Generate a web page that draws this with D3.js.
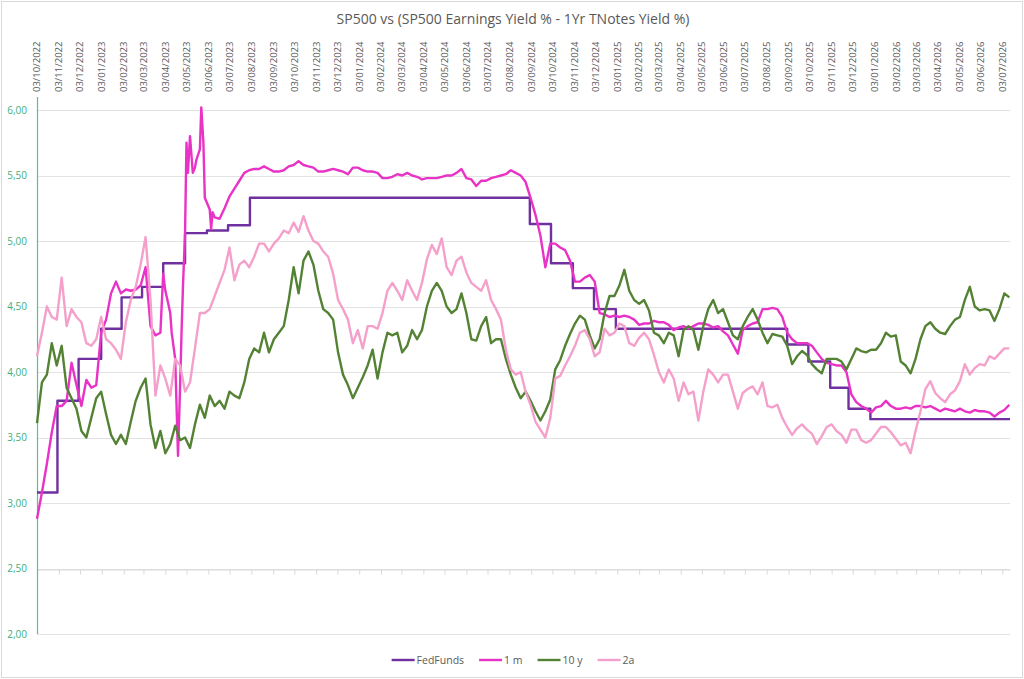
<!DOCTYPE html>
<html>
<head>
<meta charset="utf-8">
<script src="https://cdn.jsdelivr.net/npm/d3@7"></script>
<style>
  body { margin: 0; background: #fff; }
  svg { display: block; font-family: "Open Sans", sans-serif; }
</style>
</head>
<body>
<div id="chart"></div>
<script>
// weekly sample dates (Mondays)
const weeks = [
  "2022-10-03","2022-10-10","2022-10-17","2022-10-24","2022-10-31","2022-11-07","2022-11-14","2022-11-21","2022-11-28","2022-12-05",
  "2022-12-12","2022-12-19","2022-12-26","2023-01-02","2023-01-09","2023-01-16","2023-01-23","2023-01-30","2023-02-06","2023-02-13",
  "2023-02-20","2023-02-27","2023-03-06","2023-03-13","2023-03-20","2023-03-27","2023-04-03","2023-04-10","2023-04-17","2023-04-24",
  "2023-05-01","2023-05-08","2023-05-15","2023-05-22","2023-05-29","2023-06-05","2023-06-12","2023-06-19","2023-06-26","2023-07-03",
  "2023-07-10","2023-07-17","2023-07-24","2023-07-31","2023-08-07","2023-08-14","2023-08-21","2023-08-28","2023-09-04","2023-09-11",
  "2023-09-18","2023-09-25","2023-10-02","2023-10-09","2023-10-16","2023-10-23","2023-10-30","2023-11-06","2023-11-13","2023-11-20",
  "2023-11-27","2023-12-04","2023-12-11","2023-12-18","2023-12-25","2024-01-01","2024-01-08","2024-01-15","2024-01-22","2024-01-29",
  "2024-02-05","2024-02-12","2024-02-19","2024-02-26","2024-03-04","2024-03-11","2024-03-18","2024-03-25","2024-04-01","2024-04-08",
  "2024-04-15","2024-04-22","2024-04-29","2024-05-06","2024-05-13","2024-05-20","2024-05-27","2024-06-03","2024-06-10","2024-06-17",
  "2024-06-24","2024-07-01","2024-07-08","2024-07-15","2024-07-22","2024-07-29","2024-08-05","2024-08-12","2024-08-19","2024-08-26",
  "2024-09-02","2024-09-09","2024-09-16","2024-09-23","2024-09-30","2024-10-07","2024-10-14","2024-10-21","2024-10-28","2024-11-04",
  "2024-11-11","2024-11-18","2024-11-25","2024-12-02","2024-12-09","2024-12-16","2024-12-23","2024-12-30","2025-01-06","2025-01-13",
  "2025-01-20","2025-01-27","2025-02-03","2025-02-10","2025-02-17","2025-02-24","2025-03-03","2025-03-10","2025-03-17","2025-03-24",
  "2025-03-31","2025-04-07","2025-04-14","2025-04-21","2025-04-28","2025-05-05","2025-05-12","2025-05-19","2025-05-26","2025-06-02",
  "2025-06-09","2025-06-16","2025-06-23","2025-06-30","2025-07-07","2025-07-14","2025-07-21","2025-07-28","2025-08-04","2025-08-11",
  "2025-08-18","2025-08-25","2025-09-01","2025-09-08","2025-09-15","2025-09-22","2025-09-29","2025-10-06","2025-10-13","2025-10-20",
  "2025-10-27","2025-11-03","2025-11-10","2025-11-17","2025-11-24","2025-12-01","2025-12-08","2025-12-15","2025-12-22","2025-12-29",
  "2026-01-05","2026-01-12","2026-01-19","2026-01-26","2026-02-02","2026-02-09","2026-02-16","2026-02-23","2026-03-02","2026-03-09",
  "2026-03-16","2026-03-23","2026-03-30","2026-04-06","2026-04-13","2026-04-20","2026-04-27","2026-05-04","2026-05-11","2026-05-18",
  "2026-05-25","2026-06-01","2026-06-08","2026-06-15","2026-06-22","2026-06-29","2026-07-06","2026-07-13"
]

// FedFunds: level changes (step series)
const fedFunds = [
  ["2022-10-03", 3.08], ["2022-11-01", 3.78], ["2022-12-01", 4.10], ["2023-01-02", 4.33],
  ["2023-01-31", 4.57], ["2023-03-01", 4.65], ["2023-03-31", 4.83], ["2023-05-01", 5.06],
  ["2023-06-01", 5.08], ["2023-07-01", 5.12], ["2023-08-01", 5.33], ["2024-09-01", 5.13],
  ["2024-10-01", 4.83], ["2024-11-01", 4.64], ["2024-12-01", 4.48], ["2025-01-01", 4.33],
  ["2025-09-01", 4.21], ["2025-10-01", 4.08], ["2025-11-01", 3.88], ["2025-11-27", 3.72],
  ["2025-12-28", 3.64], ["2026-07-14", 3.64]
]

// 1 m, weekly
const oneMonth = [
  2.88, 3.08, 3.30, 3.54, 3.74, 3.74, 3.78, 4.07, 3.90, 3.74,
  3.94, 3.88, 3.90, 4.30, 4.40, 4.60, 4.69, 4.60, 4.63, 4.62,
  4.63, 4.66, 4.80, 4.35, 4.28, 4.30, 4.62, 4.45, 4.10, 3.90,
  5.06, 5.80, 5.56, 5.70, 5.33, 5.24, 5.18, 5.17, 5.25, 5.34,
  5.40, 5.46, 5.52, 5.54, 5.55, 5.55, 5.57, 5.55, 5.53, 5.53,
  5.54, 5.57, 5.58, 5.61, 5.58, 5.57, 5.56, 5.53, 5.53, 5.54,
  5.55, 5.54, 5.53, 5.51, 5.56, 5.56, 5.54, 5.53, 5.53, 5.52,
  5.48, 5.48, 5.49, 5.51, 5.50, 5.52, 5.50, 5.49, 5.47, 5.48,
  5.48, 5.48, 5.49, 5.50, 5.50, 5.52, 5.55, 5.48, 5.47, 5.42,
  5.46, 5.46, 5.48, 5.49, 5.50, 5.51, 5.54, 5.52, 5.50, 5.45,
  5.33, 5.20, 5.04, 4.80, 4.98, 4.98, 4.95, 4.93, 4.85, 4.69,
  4.69, 4.72, 4.74, 4.69, 4.45, 4.44, 4.42, 4.43, 4.42, 4.43,
  4.42, 4.40, 4.36, 4.37, 4.37, 4.39, 4.38, 4.38, 4.36, 4.32,
  4.34, 4.35, 4.33, 4.35, 4.37, 4.37, 4.36, 4.34, 4.35, 4.31,
  4.28, 4.21, 4.14, 4.32, 4.35, 4.37, 4.38, 4.48, 4.48, 4.49,
  4.48, 4.42, 4.30, 4.25, 4.22, 4.22, 4.22, 4.20, 4.15, 4.10,
  4.07, 4.06, 4.05, 4.05, 4.00, 3.83, 3.77, 3.74, 3.72, 3.69,
  3.73, 3.74, 3.78, 3.74, 3.72, 3.72, 3.73, 3.72, 3.74, 3.74,
  3.73, 3.74, 3.72, 3.70, 3.72, 3.71, 3.70, 3.72, 3.70, 3.69,
  3.71, 3.70, 3.70, 3.69, 3.66, 3.69, 3.71, 3.75
]

// 1 m, extra daily readings around the spring 2023 spike
const oneMonthSpikes = [
  ["2023-03-31", 4.75], ["2023-04-06", 4.55], ["2023-04-12", 4.30], ["2023-04-21", 3.36],
  ["2023-04-26", 4.30], ["2023-04-28", 4.65], ["2023-05-03", 5.75], ["2023-05-05", 5.52],
  ["2023-05-12", 5.52], ["2023-05-17", 5.62], ["2023-05-24", 6.02], ["2023-05-27", 5.75],
  ["2023-06-07", 5.09], ["2023-06-09", 5.22]
]

// 10 y, weekly
const tenYear = [
  3.61, 3.92, 3.98, 4.22, 4.05, 4.20, 3.88, 3.80, 3.72, 3.55,
  3.50, 3.65, 3.80, 3.85, 3.68, 3.52, 3.45, 3.52, 3.45, 3.62,
  3.78, 3.88, 3.95, 3.60, 3.42, 3.55, 3.38, 3.45, 3.59, 3.48,
  3.50, 3.42, 3.60, 3.75, 3.65, 3.82, 3.74, 3.78, 3.72, 3.85,
  3.82, 3.80, 3.92, 4.10, 4.18, 4.15, 4.30, 4.15, 4.25, 4.30,
  4.35, 4.55, 4.80, 4.60, 4.85, 4.92, 4.82, 4.62, 4.48, 4.45,
  4.40, 4.15, 3.98, 3.90, 3.80, 3.88, 3.96, 4.05, 4.17, 3.95,
  4.15, 4.30, 4.28, 4.30, 4.15, 4.20, 4.32, 4.25, 4.32, 4.50,
  4.62, 4.68, 4.62, 4.50, 4.45, 4.48, 4.60, 4.45, 4.25, 4.24,
  4.35, 4.42, 4.22, 4.25, 4.25, 4.10, 3.98, 3.88, 3.80, 3.85,
  3.78, 3.70, 3.63, 3.70, 3.79, 4.02, 4.09, 4.20, 4.29, 4.37,
  4.43, 4.40, 4.28, 4.18, 4.25, 4.45, 4.58, 4.58, 4.66, 4.78,
  4.62, 4.55, 4.52, 4.55, 4.47, 4.30, 4.28, 4.22, 4.30, 4.28,
  4.12, 4.32, 4.35, 4.32, 4.17, 4.35, 4.48, 4.55, 4.45, 4.48,
  4.38, 4.28, 4.25, 4.35, 4.42, 4.48, 4.40, 4.30, 4.22, 4.29,
  4.28, 4.27, 4.20, 4.06, 4.12, 4.16, 4.13, 4.06, 4.02, 3.99,
  4.10, 4.10, 4.10, 4.08, 4.02, 4.10, 4.18, 4.16, 4.15, 4.17,
  4.17, 4.22, 4.30, 4.27, 4.28, 4.08, 4.05, 3.99, 4.10, 4.25,
  4.35, 4.38, 4.33, 4.30, 4.29, 4.35, 4.40, 4.42, 4.55, 4.65,
  4.50, 4.47, 4.48, 4.47, 4.39, 4.48, 4.60, 4.57
]

// 2a, weekly
const twoYear = [
  4.12, 4.30, 4.50, 4.42, 4.40, 4.72, 4.35, 4.48, 4.42, 4.38,
  4.22, 4.20, 4.25, 4.42, 4.25, 4.22, 4.17, 4.10, 4.38, 4.55,
  4.65, 4.82, 5.03, 4.55, 3.82, 4.05, 3.95, 3.82, 4.10, 4.05,
  3.85, 3.92, 4.18, 4.45, 4.45, 4.48, 4.58, 4.68, 4.78, 4.95,
  4.70, 4.82, 4.85, 4.80, 4.88, 4.98, 4.98, 4.92, 4.98, 5.02,
  5.08, 5.06, 5.14, 5.07, 5.19, 5.08, 5.00, 4.98, 4.92, 4.88,
  4.75, 4.55, 4.48, 4.40, 4.22, 4.32, 4.18, 4.35, 4.35, 4.33,
  4.45, 4.62, 4.68, 4.62, 4.55, 4.70, 4.62, 4.55, 4.68, 4.86,
  4.97, 4.90, 5.02, 4.80, 4.74, 4.85, 4.88, 4.76, 4.68, 4.65,
  4.62, 4.70, 4.55, 4.48, 4.40, 4.17, 4.02, 3.98, 4.00, 3.85,
  3.75, 3.62, 3.56, 3.50, 3.65, 3.95, 3.97, 4.05, 4.12, 4.20,
  4.30, 4.32, 4.25, 4.12, 4.15, 4.33, 4.28, 4.30, 4.37, 4.35,
  4.22, 4.20, 4.26, 4.30, 4.25, 4.13, 4.00, 3.92, 4.02, 3.95,
  3.78, 3.92, 3.83, 3.85, 3.63, 3.85, 4.02, 3.98, 3.92, 3.98,
  3.98, 3.85, 3.72, 3.84, 3.87, 3.89, 3.83, 3.92, 3.74, 3.73,
  3.75, 3.65, 3.58, 3.52, 3.57, 3.60, 3.56, 3.53, 3.45, 3.51,
  3.58, 3.60, 3.55, 3.52, 3.46, 3.56, 3.56, 3.48, 3.46, 3.48,
  3.53, 3.58, 3.58, 3.54, 3.49, 3.44, 3.46, 3.38, 3.55, 3.70,
  3.87, 3.93, 3.84, 3.80, 3.77, 3.83, 3.86, 3.93, 4.06, 3.98,
  4.03, 4.06, 4.05, 4.12, 4.10, 4.14, 4.18, 4.18
]

const seriesNames = ["FedFunds", "1 m", "10 y", "2a"]
const seriesColors = ["#7030a0", "#e833c6", "#548235", "#f4a0cb"]
const yTicks = [2, 2.5, 3, 3.5, 4, 4.5, 5, 5.5, 6]
const xStart = "2022-10-03"
const xEnd = "2026-07-14"
const title = "SP500 vs (SP500 Earnings Yield % - 1Yr TNotes Yield %)"

const parse = d3.timeParse("%Y-%m-%d")

const width = 1024
const height = 679
const plot = { left: 37, right: 1010, top: 110, bottom: 634, axisTop: 97 }

const svg = d3.select("#chart")
  .append("svg")
  .attr("width", width)
  .attr("height", height)

// outer frame
svg.append("rect")
  .attr("x", 1.5).attr("y", 1.5)
  .attr("width", width - 3).attr("height", height - 3)
  .attr("fill", "#fff")
  .attr("stroke", "#d9d9d9")

const x = d3.scaleTime()
  .domain([parse(xStart), parse(xEnd)])
  .range([plot.left, plot.right])

const y = d3.scaleLinear()
  .domain([2, 6])
  .range([plot.bottom, plot.top])

// gridlines
svg.append("g")
  .selectAll("line")
  .data(yTicks)
  .join("line")
  .attr("x1", plot.left)
  .attr("x2", plot.right)
  .attr("y1", d => Math.round(y(d)) + 0.5)
  .attr("y2", d => Math.round(y(d)) + 0.5)
  .attr("stroke", "#e3e3e3")

// month ticks (labels on 3rd of each month)
const tickDates = d3.timeMonth.range(new Date(2022, 9, 1), new Date(2026, 7, 1))
  .map(d => d3.timeDay.offset(d, 2))
const fmt = d3.timeFormat("%d/%m/%Y")

// horizontal axis line crossing at 2.50 with small tick marks
const xAxis = svg.append("g")
  .attr("transform", `translate(0,${Math.round(y(2.5)) + 0.5})`)
  .call(d3.axisBottom(x).tickValues(tickDates).tickSize(5).tickSizeOuter(0).tickFormat(""))
xAxis.select(".domain").attr("stroke", "#d9d9d9")
xAxis.selectAll(".tick line").attr("stroke", "#d9d9d9")

// date labels along the top
svg.append("g")
  .selectAll("text")
  .data(tickDates)
  .join("text")
  .attr("transform", d => `translate(${x(d)},92) rotate(-90)`)
  .attr("dy", "0.35em")
  .attr("text-anchor", "start")
  .attr("font-size", 9.5)
  .attr("fill", "#595959")
  .text(d => fmt(d))

// vertical axis
svg.append("line")
  .attr("x1", plot.left + 0.5).attr("x2", plot.left + 0.5)
  .attr("y1", plot.axisTop).attr("y2", plot.bottom)
  .attr("stroke", "#5cbf93")
  .attr("stroke-width", 1.2)

const yFmt = d => d.toFixed(2).replace(".", ",")
svg.append("g")
  .selectAll("text")
  .data(yTicks)
  .join("text")
  .attr("x", 27)
  .attr("y", d => y(d))
  .attr("dy", "0.35em")
  .attr("text-anchor", "end")
  .attr("font-size", 10)
  .attr("fill", "#3fae7c")
  .text(yFmt)

// series
const weekDates = weeks.map(parse)
const seriesData = [
  fedFunds.map(([d, v]) => ({ date: parse(d), value: v })),
  weekDates.map((d, i) => ({ date: d, value: oneMonth[i] }))
    .concat(oneMonthSpikes.map(([d, v]) => ({ date: parse(d), value: v })))
    .sort((a, b) => a.date - b.date),
  weekDates.map((d, i) => ({ date: d, value: tenYear[i] })),
  weekDates.map((d, i) => ({ date: d, value: twoYear[i] }))
]

const line = d3.line()
  .x(d => x(d.date))
  .y(d => y(d.value))

svg.append("g")
  .selectAll("path")
  .data(seriesData)
  .join("path")
  .attr("fill", "none")
  .attr("stroke", (d, i) => seriesColors[i])
  .attr("stroke-width", 2.4)
  .attr("stroke-linejoin", "round")
  .attr("d", (d, i) => (i === 0 ? line.curve(d3.curveStepAfter) : line.curve(d3.curveLinear))(d))

// title
svg.append("text")
  .attr("x", 513)
  .attr("y", 24)
  .attr("text-anchor", "middle")
  .attr("font-size", 14)
  .attr("fill", "#595959")
  .text(title)

// legend
const legend = svg.append("g").attr("transform", "translate(0,660)")
const items = legend.selectAll("g")
  .data(seriesNames)
  .join("g")
items.append("line")
  .attr("x1", 0).attr("x2", 23)
  .attr("stroke", (d, i) => seriesColors[i])
  .attr("stroke-width", 2.4)
items.append("text")
  .attr("x", 25)
  .attr("dy", "0.35em")
  .attr("font-size", 10.5)
  .attr("fill", "#595959")
  .text(d => d)

const widths = []
items.each(function () {
  widths.push(25 + d3.select(this).select("text").node().getComputedTextLength())
})
const gap = 15
const total = d3.sum(widths) + gap * (widths.length - 1)
let offset = 513 - total / 2
items.attr("transform", (d, i) => {
  const t = `translate(${offset},0)`
  offset += widths[i] + gap
  return t
})
</script>
</body>
</html>
